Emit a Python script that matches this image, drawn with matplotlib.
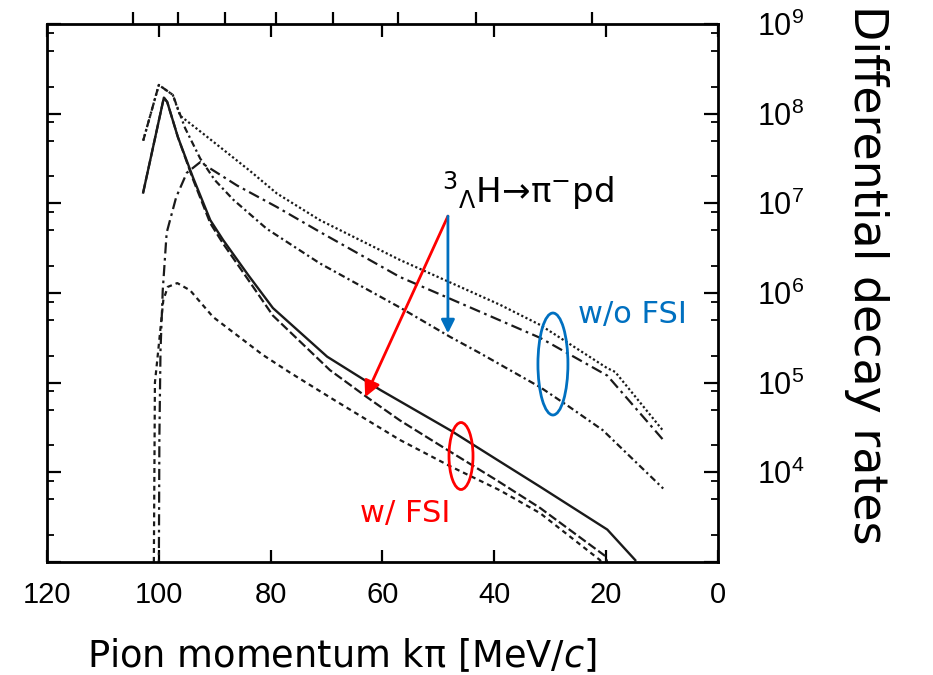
import matplotlib
matplotlib.use("Agg")
import matplotlib.pyplot as plt
from matplotlib.patches import Ellipse
from matplotlib.ticker import FixedLocator, NullFormatter

# ---------------- data (pion momentum k [MeV/c], differential decay rate) -------------
# w/o FSI curves
k_dotted = [102.8, 100.0, 97.5, 96.2, 92.1, 86.7, 83.7, 78.9, 71.2, 56.9, 39.0, 31.8, 19.8, 18.4, 9.8]
r_dotted = [5.0e7, 2.09e8, 1.62e8, 9.5e7, 6.0e7, 3.24e7, 2.3e7, 1.29e7, 6.5e6, 2.34e6, 7.4e5,
            4.4e5, 1.45e5, 1.32e5, 2.9e4]

k_dashdot_long = [100.0, 99.9, 99.7, 99.3, 98.6, 96.9, 95.0, 92.6, 86.0, 78.9, 71.2, 56.9, 42.6,
                  31.8, 19.8, 9.8]
r_dashdot_long = [8e2, 2.5e4, 2.3e5, 1.07e6, 4.7e6, 1.17e7, 2.19e7, 2.88e7, 1.58e7, 9.1e6, 4.8e6,
                  1.51e6, 6.2e5, 3.16e5, 1.2e5, 2.3e4]

k_dashdot = [102.8, 100.0, 97.5, 95.3, 92.6, 90.0, 86.7, 80.7, 71.2, 56.9, 47.9, 42.6, 31.8, 27.0,
             20.6, 9.8]
r_dashdot = [5.0e7, 2.09e8, 1.62e8, 6.9e7, 3.16e7, 1.82e7, 1.1e7, 5.2e6, 2.14e6, 6.9e5, 3.24e5,
             2.14e5, 8.9e4, 5.6e4, 2.95e4, 6.6e3]

# w/ FSI curves
k_solid = [102.8, 99.1, 98.5, 96.6, 93.9, 90.8, 88.5, 84.0, 79.6, 69.9, 60.4, 47.9, 39.5, 31.8,
           19.8, 14.8]
r_solid = [1.32e7, 1.51e8, 1.35e8, 5.5e7, 1.95e7, 6.5e6, 3.9e6, 1.58e6, 6.8e5, 1.95e5, 8.3e4,
           2.95e4, 1.38e4, 6.9e3, 2.3e3, 1.05e3]

k_dashed = [102.8, 99.1, 98.5, 96.6, 93.9, 90.8, 88.5, 84.0, 79.6, 69.4, 62.8, 56.9, 47.9, 39.5,
            31.8, 20.2, 19.5]
r_dashed = [1.32e7, 1.51e8, 1.35e8, 5.5e7, 1.86e7, 6.0e6, 3.55e6, 1.4e6, 5.6e5, 1.38e5, 6.9e4,
            3.8e4, 1.7e4, 8.1e3, 4.0e3, 1.17e3, 8.9e2]

k_short = [100.9, 100.7, 100.1, 99.2, 98.4, 96.7, 94.4, 90.3, 81.4, 76.5, 68.8, 56.9, 47.9, 39.0,
           31.8, 21.1, 20.5]
r_short = [8e2, 1.0e5, 2.3e5, 8.3e5, 1.17e6, 1.29e6, 1.07e6, 5.4e5, 2.04e5, 1.29e5, 6.5e4, 2.3e4,
           1.17e4, 6.3e3, 3.5e3, 1.05e3, 8.9e2]

x_ticks = [120, 100, 80, 60, 40, 20, 0]
x_tick_labels = ["120", "100", "80", "60", "40", "20", "0"]
top_outer_ticks = [104.6, 96.6, 88.2, 79.0, 68.8, 57.2, 43.3, 22.5]
y_ticks = [1e3, 1e4, 1e5, 1e6, 1e7, 1e8, 1e9]
y_tick_labels = ["", r"$\mathregular{10^{4}}$", r"$\mathregular{10^{5}}$", r"$\mathregular{10^{6}}$",
                 r"$\mathregular{10^{7}}$", r"$\mathregular{10^{8}}$", r"$\mathregular{10^{9}}$"]
minor_mantissas = [2, 5, 8]

# arrow / annotation anchor points (data coords)
arrow_start = (48.3, 7.2e6)
red_arrow_end = (63.1, 6.9e4)
blue_arrow_end = (48.3, 3.55e5)

# ---------------- figure ----------------
W, H = 933, 675
fig = plt.figure(figsize=(W / 100, H / 100), dpi=100)
ax = fig.add_axes([47 / W, 113 / H, 671 / W, 538 / H])
ax.set_xlim(120, 0)
ax.set_yscale("log")
ax.set_ylim(1e3, 1e9)

lc = "#1a1a1a"
ax.plot(k_dotted, r_dotted, color=lc, lw=1.6, ls=(0, (1, 1.1)))
ax.plot(k_dashdot_long, r_dashdot_long, color=lc, lw=1.6, ls=(0, (5, 2, 1.2, 2)))
ax.plot(k_dashdot, r_dashdot, color=lc, lw=1.6, ls=(0, (3, 1.5, 1, 1.5)))
ax.plot(k_solid, r_solid, color=lc, lw=1.7, ls="-")
ax.plot(k_dashed, r_dashed, color=lc, lw=1.6, ls=(0, (4, 1.5)))
ax.plot(k_short, r_short, color=lc, lw=1.6, ls=(0, (2.2, 1.8)))

# spines & ticks
for sp in ax.spines.values():
    sp.set_linewidth(2.0)
ax.set_xticks(x_ticks, labels=x_tick_labels, fontsize=21, fontfamily="Liberation Sans")
ax.tick_params(axis="x", which="major", direction="in", top=True, bottom=True,
               length=9, width=1.6, pad=14)
ax.set_yticks(y_ticks, labels=y_tick_labels, fontsize=22, fontfamily="Liberation Sans")
ax.yaxis.set_minor_locator(FixedLocator([m * 10.0 ** e for e in range(3, 9) for m in minor_mantissas]))
ax.yaxis.set_minor_formatter(NullFormatter())
ax.tick_params(axis="y", which="both", direction="in", left=True, right=True,
               labelleft=False, labelright=True)
ax.tick_params(axis="y", which="major", length=10, width=1.6, pad=28)
ax.tick_params(axis="y", which="minor", length=5, width=1.3)

sec = ax.secondary_xaxis("top")
sec.set_xticks(top_outer_ticks)
sec.tick_params(axis="x", direction="out", length=9, width=1.6, labeltop=False)
sec.spines["top"].set_visible(False)

# annotations
ax.annotate("", xy=red_arrow_end, xytext=arrow_start,
            arrowprops=dict(arrowstyle="-|>", color="#FF0000", lw=2.0, mutation_scale=24,
                            shrinkA=0, shrinkB=0), zorder=5)
ax.annotate("", xy=blue_arrow_end, xytext=arrow_start,
            arrowprops=dict(arrowstyle="-|>", color="#0070C0", lw=2.0, mutation_scale=20,
                            shrinkA=0, shrinkB=0), zorder=5)
ax.text(0.589, 0.669, r"$^{3}{}_{\Lambda}$H→π$^{-}$pd", transform=ax.transAxes,
        fontsize=24.5, fontfamily="DejaVu Sans", math_fontfamily="dejavusans",
        ha="left", va="baseline")
ax.add_patch(Ellipse((0.754, 0.368), 0.0447, 0.1896, transform=ax.transAxes, fill=False,
                     ec="#0070C0", lw=2.0, zorder=6))
ax.add_patch(Ellipse((0.617, 0.197), 0.0358, 0.1245, transform=ax.transAxes, fill=False,
                     ec="#FF0000", lw=2.0, zorder=6))
ax.text(0.791, 0.444, "w/o FSI", transform=ax.transAxes, color="#0070C0", fontsize=22,
        fontfamily="DejaVu Sans", ha="left", va="baseline")
ax.text(0.466, 0.0743, "w/ FSI", transform=ax.transAxes, color="#FF0000", fontsize=22,
        fontfamily="DejaVu Sans", ha="left", va="baseline")

# axis labels
fig.text(342 / W, 8 / H, r"Pion momentum kπ [MeV/$\mathit{c}$]", ha="center", va="baseline",
         fontsize=26.5, fontfamily="DejaVu Sans", math_fontfamily="dejavusans")
fig.text(866 / W, 1 - 275 / H, "Differential decay rates", rotation=270, ha="center",
         va="center", fontsize=33, fontfamily="DejaVu Sans")

fig.savefig("out.png", dpi=100)
